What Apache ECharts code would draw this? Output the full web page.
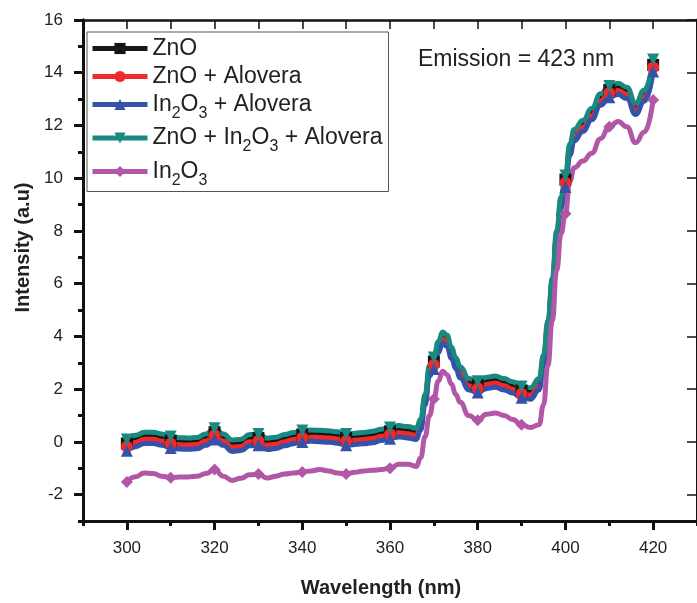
<!DOCTYPE html>
<html>
<head>
<meta charset="utf-8">
<script src="https://cdn.jsdelivr.net/npm/echarts@6/dist/echarts.min.js"></script>
<style>
  html, body { margin: 0; padding: 0; background: #fff; }
  #main { width: 697px; height: 603px; }
</style>
</head>
<body>
<div id="main"></div>
<script>
// wavelengths (nm) shared by every curve
const wavelength = [
  300,302,304,306,308,310,312,314,316,318,
  320,322,324,326,328,330,332,334,336,338,
  340,342,344,346,348,350,352,354,356,358,
  360,362,364,366,367,368,369,370,371,372,
  373,374,375,376,378,380,382,384,386,388,
  390,392,394,395,396,397,398,399,400,401,
  402,404,406,408,410,412,414,416,418,420
]

const znO = [
  -0.06,0.10,0.22,0.22,0.15,0.05,0.01,0.00,0.02,0.15,
  0.37,0.15,-0.08,-0.05,0.13,0.15,-0.01,0.03,0.13,0.21,
  0.28,0.30,0.29,0.27,0.23,0.15,0.18,0.21,0.25,0.33,
  0.40,0.47,0.43,0.37,0.72,1.65,2.75,3.05,3.65,4.02,
  3.90,3.45,3.05,2.70,2.25,2.15,2.30,2.35,2.25,2.13,
  1.95,1.90,2.25,3.15,4.45,6.05,7.85,9.15,9.95,11.15,
  11.70,12.05,12.50,13.05,13.35,13.45,13.30,12.70,13.20,14.30
]

const znOAlovera = [
  -0.18,-0.02,0.10,0.10,0.03,-0.07,-0.11,-0.12,-0.10,0.03,
  0.25,0.03,-0.20,-0.17,0.01,0.03,-0.13,-0.09,0.01,0.09,
  0.16,0.18,0.17,0.15,0.11,0.03,0.06,0.09,0.13,0.21,
  0.28,0.35,0.31,0.25,0.60,1.55,2.65,2.92,3.55,3.90,
  3.78,3.33,2.93,2.58,2.13,2.03,2.18,2.23,2.13,2.00,
  1.83,1.78,2.13,3.03,4.33,5.93,7.73,9.03,9.83,11.03,
  11.58,11.93,12.38,12.93,13.23,13.33,13.18,12.58,13.08,14.20
]

const in2O3Alovera = [
  -0.34,-0.18,-0.06,-0.06,-0.13,-0.23,-0.27,-0.28,-0.26,-0.13,
  0.09,-0.13,-0.36,-0.33,-0.15,-0.13,-0.29,-0.25,-0.15,-0.07,
  0.00,0.02,0.01,-0.01,-0.05,-0.13,-0.10,-0.07,-0.03,0.05,
  0.12,0.19,0.15,0.09,0.45,1.40,2.50,2.76,3.38,3.74,
  3.62,3.17,2.77,2.42,1.97,1.87,2.02,2.07,1.97,1.85,
  1.67,1.62,1.97,2.87,4.17,5.77,7.57,8.87,9.67,10.87,
  11.42,11.77,12.22,12.77,13.07,13.17,13.02,12.42,12.92,14.05
]

const znOIn2O3Alovera = [
  0.09,0.25,0.37,0.37,0.30,0.20,0.16,0.15,0.17,0.30,
  0.52,0.30,0.07,0.10,0.28,0.30,0.14,0.18,0.28,0.36,
  0.43,0.45,0.44,0.42,0.38,0.30,0.33,0.36,0.40,0.48,
  0.55,0.62,0.58,0.52,0.87,1.80,2.90,3.20,3.80,4.17,
  4.05,3.60,3.20,2.85,2.40,2.30,2.45,2.50,2.40,2.28,
  2.10,2.05,2.40,3.30,4.60,6.20,8.00,9.30,10.10,11.30,
  11.85,12.20,12.65,13.20,13.50,13.60,13.45,12.85,13.35,14.50
]

const in2O3 = [
  -1.52,-1.32,-1.18,-1.20,-1.30,-1.36,-1.33,-1.33,-1.30,-1.20,
  -1.05,-1.30,-1.46,-1.38,-1.25,-1.22,-1.37,-1.30,-1.22,-1.18,
  -1.14,-1.10,-1.05,-1.10,-1.18,-1.22,-1.15,-1.10,-1.08,-1.05,
  -1.00,-0.85,-0.85,-0.93,-0.60,0.20,1.00,1.63,2.30,2.68,
  2.55,2.20,1.80,1.50,1.00,0.82,1.05,1.10,1.00,0.85,
  0.65,0.55,0.65,1.40,2.90,4.60,6.50,7.90,8.65,9.90,
  10.40,10.65,10.95,11.50,11.95,12.15,11.95,11.35,11.75,12.97
]

const xMajor = [300, 320, 340, 360, 380, 400, 420]
const xMinor = [290, 310, 330, 350, 370, 390, 410, 430]
const xTop = [300, 310, 320, 330, 340, 350, 360, 370, 380, 390, 400, 410, 420]
const yMajor = [-2, 0, 2, 4, 6, 8, 10, 12, 14, 16]
const yMinor = [-3, -1, 1, 3, 5, 7, 9, 11, 13, 15]

const font = 'Liberation Sans, Arial, sans-serif'

const chart = echarts.init(document.getElementById('main'))

const curves = [
  { name: 'ZnO', data: znO, color: '#161616', symbol: 'rect', rotate: 0 },
  { name: 'ZnO + Alovera', data: znOAlovera, color: '#ee2a2a', symbol: 'circle', rotate: 0 },
  { name: 'In2O3 + Alovera', data: in2O3Alovera, color: '#3452a8', symbol: 'triangle', rotate: 0 },
  { name: 'ZnO + In2O3 + Alovera', data: znOIn2O3Alovera, color: '#1a8a80', symbol: 'triangle', rotate: 180 },
  { name: 'In2O3', data: in2O3, color: '#b256a8', symbol: 'diamond', rotate: 0 }
]

const series = curves.map(c => ({
  name: c.name,
  type: 'line',
  xAxisIndex: 0,
  yAxisIndex: 0,
  data: wavelength.map((w, i) => [w, c.data[i]]),
  smooth: 0.5,
  smoothMonotone: 'x',
  showAllSymbol: true,
  symbol: c.symbol,
  symbolRotate: c.rotate,
  symbolSize: (v) => (v[0] % 10 === 0 ? 12 : 0),
  color: c.color,
  lineStyle: { width: 5, color: c.color },
  itemStyle: { color: c.color },
  emphasis: { disabled: true }
}))

const baseAxis = {
  type: 'value',
  splitLine: { show: false },
  axisLine: { show: true, onZero: false, lineStyle: { color: '#111', width: 3 } }
}

const option = {
  animation: false,
  backgroundColor: '#fff',
  title: {
    text: 'Emission = 423 nm',
    left: 413,
    top: 43,
    textStyle: { fontFamily: font, fontSize: 23, fontWeight: 'normal', color: '#222' }
  },
  legend: {
    orient: 'vertical',
    left: 87,
    top: 32,
    padding: [5, 6, 3, 3],
    itemGap: 5,
    itemWidth: 55,
    itemHeight: 14,
    borderColor: '#555',
    borderWidth: 1,
    lineStyle: { width: 5 },
    data: curves.map(c => c.name),
    formatter: (name) => name.replace('In2O3', 'In{sub|2}O{sub|3}'),
    textStyle: {
      fontFamily: font,
      fontSize: 23,
      color: '#222',
      rich: {
        sub: { fontFamily: font, fontSize: 16, color: '#222', padding: [18, 0, 0, 0] }
      }
    }
  },
  grid: { left: 83, top: 20, right: -5, bottom: 81, containLabel: false },
  xAxis: [
    Object.assign({}, baseAxis, {
      min: 290, max: 430, position: 'bottom',
      name: 'Wavelength (nm)', nameLocation: 'middle', nameGap: 57,
      nameTextStyle: { fontFamily: font, fontSize: 20, fontWeight: 'bold', color: '#222', padding: [0, 18, 0, 0] },
      axisTick: { show: true, length: 9, lineStyle: { color: '#111', width: 3 }, customValues: xMajor },
      axisLabel: { fontFamily: font, fontSize: 17, color: '#222', margin: 19, customValues: xMajor }
    }),
    Object.assign({}, baseAxis, {
      min: 290, max: 430, position: 'bottom',
      axisTick: { show: true, length: 5, lineStyle: { color: '#111', width: 3 }, customValues: xMinor },
      axisLabel: { show: false }
    }),
    Object.assign({}, baseAxis, {
      min: 290, max: 430, position: 'top',
      axisLine: { show: true, onZero: false, lineStyle: { color: '#111', width: 2.5 } },
      axisTick: { show: true, inside: true, length: 9, lineStyle: { color: '#111', width: 1.5 }, customValues: xTop },
      axisLabel: { show: false }
    })
  ],
  yAxis: [
    Object.assign({}, baseAxis, {
      min: -3, max: 16, position: 'left',
      name: 'Intensity (a.u)', nameLocation: 'middle', nameGap: 50,
      nameTextStyle: { fontFamily: font, fontSize: 20, fontWeight: 'bold', color: '#222', padding: [0, 0, 0, 46] },
      axisTick: { show: true, length: 9, lineStyle: { color: '#111', width: 3 }, customValues: yMajor },
      axisLabel: { fontFamily: font, fontSize: 17, color: '#222', margin: 20, customValues: yMajor }
    }),
    Object.assign({}, baseAxis, {
      min: -3, max: 16, position: 'left',
      axisTick: { show: true, length: 5, lineStyle: { color: '#111', width: 3 }, customValues: yMinor },
      axisLabel: { show: false }
    }),
    Object.assign({}, baseAxis, {
      min: -3, max: 16, position: 'right',
      axisTick: { show: true, inside: true, length: 10, lineStyle: { color: '#111', width: 1.5 }, customValues: yMajor },
      axisLabel: { show: false }
    })
  ],
  series: series
}

chart.setOption(option)
</script>
</body>
</html>
